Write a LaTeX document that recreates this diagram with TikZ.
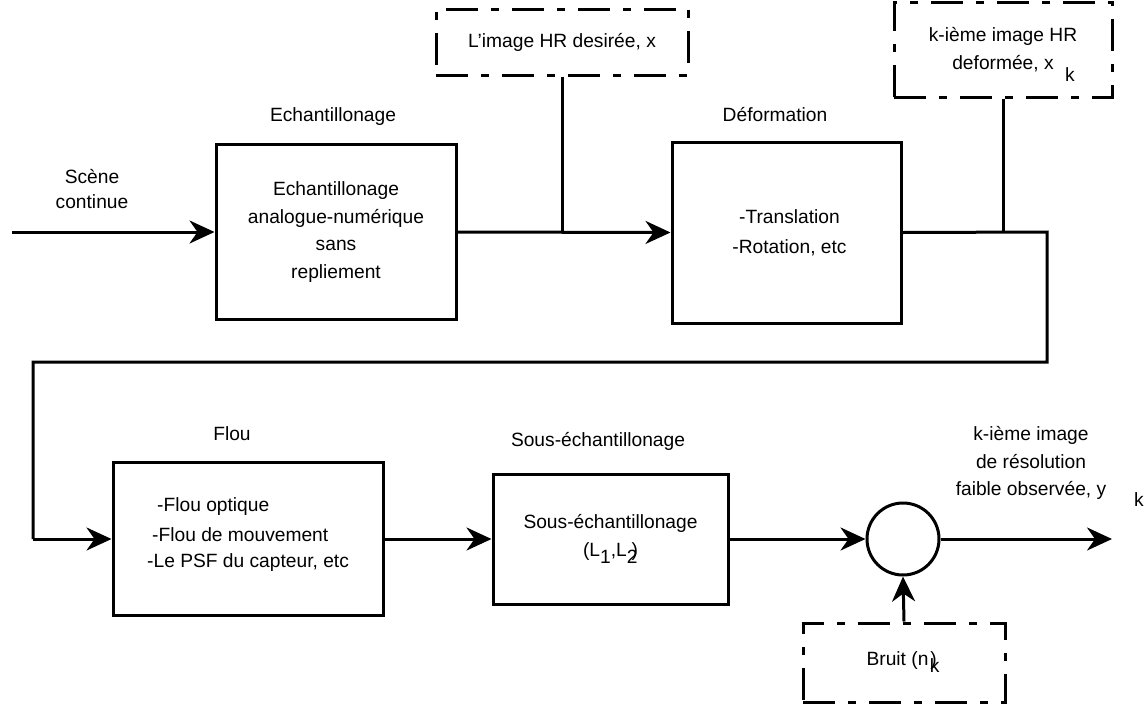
\documentclass[tikz,border=0pt]{standalone}
\usepackage{fontspec}
\setmainfont{Liberation Sans}
\usetikzlibrary{arrows.meta}
\begin{document}
\begin{tikzpicture}[x=1pt,y=-1pt,
  box/.style={draw, line width=3pt, rectangle, inner sep=0pt, font=\fontsize{19.2}{27.5}\selectfont, align=center},
  dbox/.style={draw, line width=3pt, dash pattern=on 32pt off 13pt on 8pt off 13pt, inner sep=0pt, font=\fontsize{19.2}{28}\selectfont, align=center},
  conn/.style={line width=3pt},
  arr/.style={conn, -{Stealth[length=25pt,width=23pt,inset=8pt]}},
  lbl/.style={font=\fontsize{19.2}{27}\selectfont, align=center, inner sep=0pt},
]
\useasboundingbox (0,0) rectangle (1145,707);

% main boxes
\node[box, minimum width=240pt, minimum height=175pt] (ech) at (336,232)
  {Echantillonage\\analogue-numérique\\sans\\repliement};
\node[box, minimum width=229pt, minimum height=181pt, font=\fontsize{19.2}{30}\selectfont] (def) at (786.5,232.5)
  {\hspace*{6pt}-Translation\\\hspace*{6pt}-Rotation, etc};
\node[box, minimum width=270pt, minimum height=153pt] (flou) at (248,539) {};
\node[box, minimum width=235pt, minimum height=130pt] (sous) at (610.5,539)
  {Sous-échantillonage\\(L\raisebox{-7pt}{1},L\raisebox{-7pt}{2}\kern-6pt)};
\node[draw, circle, line width=3pt, minimum size=72pt, inner sep=0pt] (sum) at (903,539) {};

% dashed boxes
\node[dbox, minimum width=252pt, minimum height=66pt] (hr) at (562,42) {L’image HR desirée, x};
\node[dbox, minimum width=218pt, minimum height=95pt] (kb) at (1003,49.5) {k-ième image HR\\deformée, x\hspace{26pt}};
\node[lbl] (kbk) at (1070,75) {k};
\node[dbox, minimum width=202pt, minimum height=79pt] (bruit) at (904,662.5) {Bruit (n\kern2pt)\hspace{-7pt}\raisebox{-7pt}{k}\hspace{2pt}};

% labels
\node[lbl] (lech) at (333,117) {Echantillonage};
\node[lbl] (ldef) at (775,115) {Déformation};
\node[lbl] (lflou) at (232,434) {Flou};
\node[lbl] (lsous) at (598,441) {Sous-échantillonage};
\node[lbl, font=\fontsize{19.2}{25}\selectfont] (lscene) at (92,189) {Scène\\continue};
\node[lbl, font=\fontsize{19.2}{27.5}\selectfont] (lout) at (1031,463) {k-ième image\\de résolution\\faible observée, y};
\node[lbl] (loutk) at (1139,500) {k};

% flou text
\node[lbl, anchor=west] (f1) at (157,507) {-Flou optique};
\node[lbl, anchor=west] (f2) at (152,535) {-Flou de mouvement};
\node[lbl, anchor=west] (f3) at (147,563) {-Le PSF du capteur, etc};

% coordinates
\coordinate (in) at (12,232);
\coordinate (r1) at (1047,232);
\coordinate (r2) at (1047,362);
\coordinate (l1) at (33,362);
\coordinate (l2) at (33,539);
\coordinate (out) at (1112,539);

% connectors
\draw[arr] (in) -- (ech.west);
\draw[arr] (ech.east) -- (def.west);
\draw[conn] (hr.south) -- (hr.south |- ech.east);
\draw[conn] (def.east) -- (r1) -- (r2) -- (l1) -- (l2);
\draw[arr] (l2) -- (flou.west);
\draw[conn] (kb.south) -- (kb.south |- def.east);
\draw[arr] (flou.east) -- (sous.west);
\draw[arr] (sous.east) -- (sum.west);
\draw[arr] (sum.east) -- (out);
\draw[arr] (bruit.north) -- (sum.south);
\end{tikzpicture}
\end{document}
